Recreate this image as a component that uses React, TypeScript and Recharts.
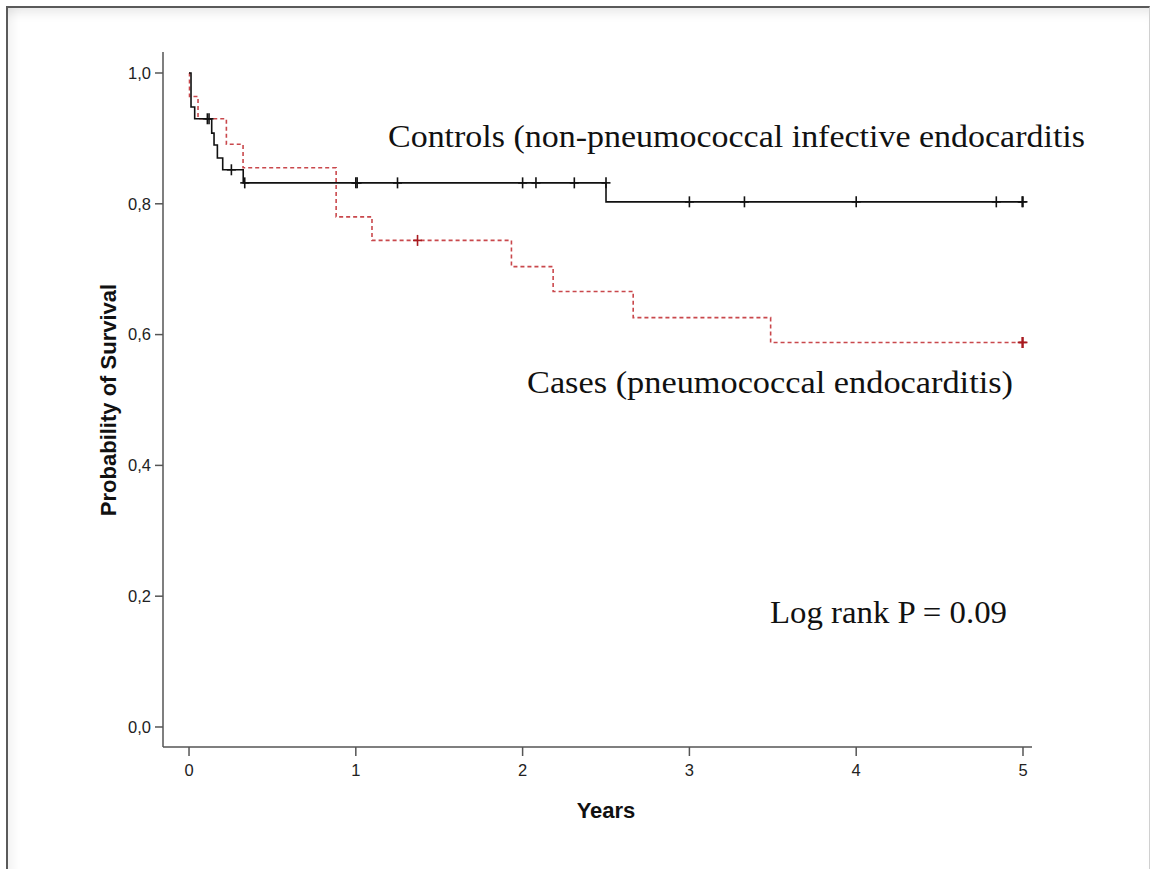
import React from "react";
import { ComposedChart, Line, Scatter, XAxis, YAxis } from "recharts";

// Kaplan-Meier step points (time in years, survival probability)
const controlsSteps = [
  { t: 0, s: 1.0 },
  { t: 0.012, s: 0.948 },
  { t: 0.034, s: 0.93 },
  { t: 0.136, s: 0.908 },
  { t: 0.15, s: 0.89 },
  { t: 0.17, s: 0.87 },
  { t: 0.202, s: 0.852 },
  { t: 0.325, s: 0.832 },
  { t: 2.5, s: 0.803 },
  { t: 5.0, s: 0.803 },
];

const casesSteps = [
  { t: 0, s: 1.0 },
  { t: 0.003, s: 0.964 },
  { t: 0.054, s: 0.93 },
  { t: 0.224, s: 0.891 },
  { t: 0.324, s: 0.855 },
  { t: 0.882, s: 0.78 },
  { t: 1.097, s: 0.744 },
  { t: 1.933, s: 0.704 },
  { t: 2.183, s: 0.666 },
  { t: 2.663, s: 0.626 },
  { t: 3.487, s: 0.588 },
  { t: 5.0, s: 0.588 },
];

// Censored observations
const controlsCensored = [
  { t: 0.11, s: 0.93 },
  { t: 0.12, s: 0.93 },
  { t: 0.254, s: 0.852 },
  { t: 0.334, s: 0.832 },
  { t: 1.0, s: 0.832 },
  { t: 1.008, s: 0.832 },
  { t: 1.25, s: 0.832 },
  { t: 2.0, s: 0.832 },
  { t: 2.08, s: 0.832 },
  { t: 2.31, s: 0.832 },
  { t: 2.5, s: 0.832 },
  { t: 3.0, s: 0.803 },
  { t: 3.33, s: 0.803 },
  { t: 4.0, s: 0.803 },
  { t: 4.84, s: 0.803 },
  { t: 4.995, s: 0.803 },
  { t: 5.0, s: 0.803 },
];

const casesCensored = [
  { t: 1.37, s: 0.744 },
  { t: 4.995, s: 0.588 },
  { t: 5.0, s: 0.588 },
];

const xTicks = [0, 1, 2, 3, 4, 5];
const yTicks = [0, 0.2, 0.4, 0.6, 0.8, 1.0];

const W = 1152;
const H = 869;
const BLACK = "#111111";
const RED = "#c0282d";
const AXIS = "#555555";

const makeCross = (color: string) => (props: any) => {
  const { cx, cy } = props;
  if (cx == null || cy == null) return <g />;
  return (
    <g>
      <line x1={cx} y1={cy - 5.5} x2={cx} y2={cy + 5.5} stroke={color} strokeWidth={1.6} />
      <line x1={cx - 4.5} y1={cy} x2={cx + 4.5} y2={cy} stroke={color} strokeWidth={1.6} />
    </g>
  );
};

const fmtY = (v: number) => v.toFixed(1).replace(".", ",");

export default function App() {
  return (
    <div
      style={{
        position: "absolute",
        left: 0,
        top: 0,
        width: W,
        height: H,
        overflow: "hidden",
        background: "#ffffff",
      }}
    >
      <div
        style={{
          position: "absolute",
          left: 6,
          top: 6,
          width: 1141,
          height: 900,
          borderTop: "2px solid #5a5a5a",
          borderLeft: "2px solid #5a5a5a",
          borderRight: "1px solid #d0d0d0",
          boxShadow:
            "inset 0 12px 12px -8px rgba(0,0,0,0.10), inset 12px 0 12px -8px rgba(0,0,0,0.06)",
        }}
      />
      <div style={{ position: "absolute", left: 0, top: 0 }}>
        <ComposedChart
          width={W}
          height={H}
          margin={{ top: 52, right: 120, bottom: 92, left: 103 }}
        >
          <XAxis
            type="number"
            dataKey="t"
            domain={[-0.156, 5.054]}
            ticks={xTicks}
            allowDataOverflow
            height={30}
            axisLine={{ stroke: AXIS, strokeWidth: 1.5 }}
            tickLine={{ stroke: AXIS, strokeWidth: 1.5 }}
            tickSize={9}
            tickMargin={8}
            tick={{ fill: "#222", fontSize: 16.5, fontFamily: "Liberation Sans, Arial, sans-serif" }}
          />
          <YAxis
            type="number"
            dataKey="s"
            domain={[-0.0306, 1.0321]}
            ticks={yTicks}
            allowDataOverflow
            width={60}
            tickFormatter={fmtY}
            axisLine={{ stroke: AXIS, strokeWidth: 1.5 }}
            tickLine={{ stroke: AXIS, strokeWidth: 1.5 }}
            tickSize={8}
            tickMargin={4}
            tick={{ fill: "#222", fontSize: 16.5, fontFamily: "Liberation Sans, Arial, sans-serif" }}
          />
          <Line
            data={casesSteps}
            dataKey="s"
            type="stepAfter"
            stroke={RED}
            strokeOpacity={0.85}
            strokeWidth={1.6}
            strokeDasharray="4 3"
            dot={false}
            activeDot={false}
            isAnimationActive={false}
          />
          <Line
            data={controlsSteps}
            dataKey="s"
            type="stepAfter"
            stroke={BLACK}
            strokeWidth={1.6}
            dot={false}
            activeDot={false}
            isAnimationActive={false}
          />
          <Scatter
            data={casesCensored}
            dataKey="s"
            shape={makeCross("#a81a1f")}
            isAnimationActive={false}
          />
          <Scatter
            data={controlsCensored}
            dataKey="s"
            shape={makeCross(BLACK)}
            isAnimationActive={false}
          />
        </ComposedChart>
      </div>
      <svg
        width={W}
        height={H}
        style={{ position: "absolute", left: 0, top: 0, pointerEvents: "none" }}
      >
        <text
          x={388}
          y={147}
          fontFamily="Liberation Serif, serif"
          fontSize={31}
          fill="#111"
          textLength={697}
          lengthAdjust="spacingAndGlyphs"
        >
          Controls (non-pneumococcal infective endocarditis
        </text>
        <text
          x={527}
          y={393}
          fontFamily="Liberation Serif, serif"
          fontSize={31}
          fill="#111"
          textLength={486}
          lengthAdjust="spacingAndGlyphs"
        >
          Cases (pneumococcal endocarditis)
        </text>
        <text
          x={770}
          y={623}
          fontFamily="Liberation Serif, serif"
          fontSize={31}
          fill="#111"
          textLength={237}
          lengthAdjust="spacingAndGlyphs"
        >
          Log rank P = 0.09
        </text>
        <text
          x={606}
          y={818}
          textAnchor="middle"
          fontFamily="Liberation Sans, Arial, sans-serif"
          fontWeight="bold"
          fontSize={22}
          fill="#111"
        >
          Years
        </text>
        <text
          x={116}
          y={400}
          textAnchor="middle"
          transform="rotate(-90 116 400)"
          fontFamily="Liberation Sans, Arial, sans-serif"
          fontWeight="bold"
          fontSize={22}
          fill="#111"
        >
          Probability of Survival
        </text>
      </svg>
    </div>
  );
}
